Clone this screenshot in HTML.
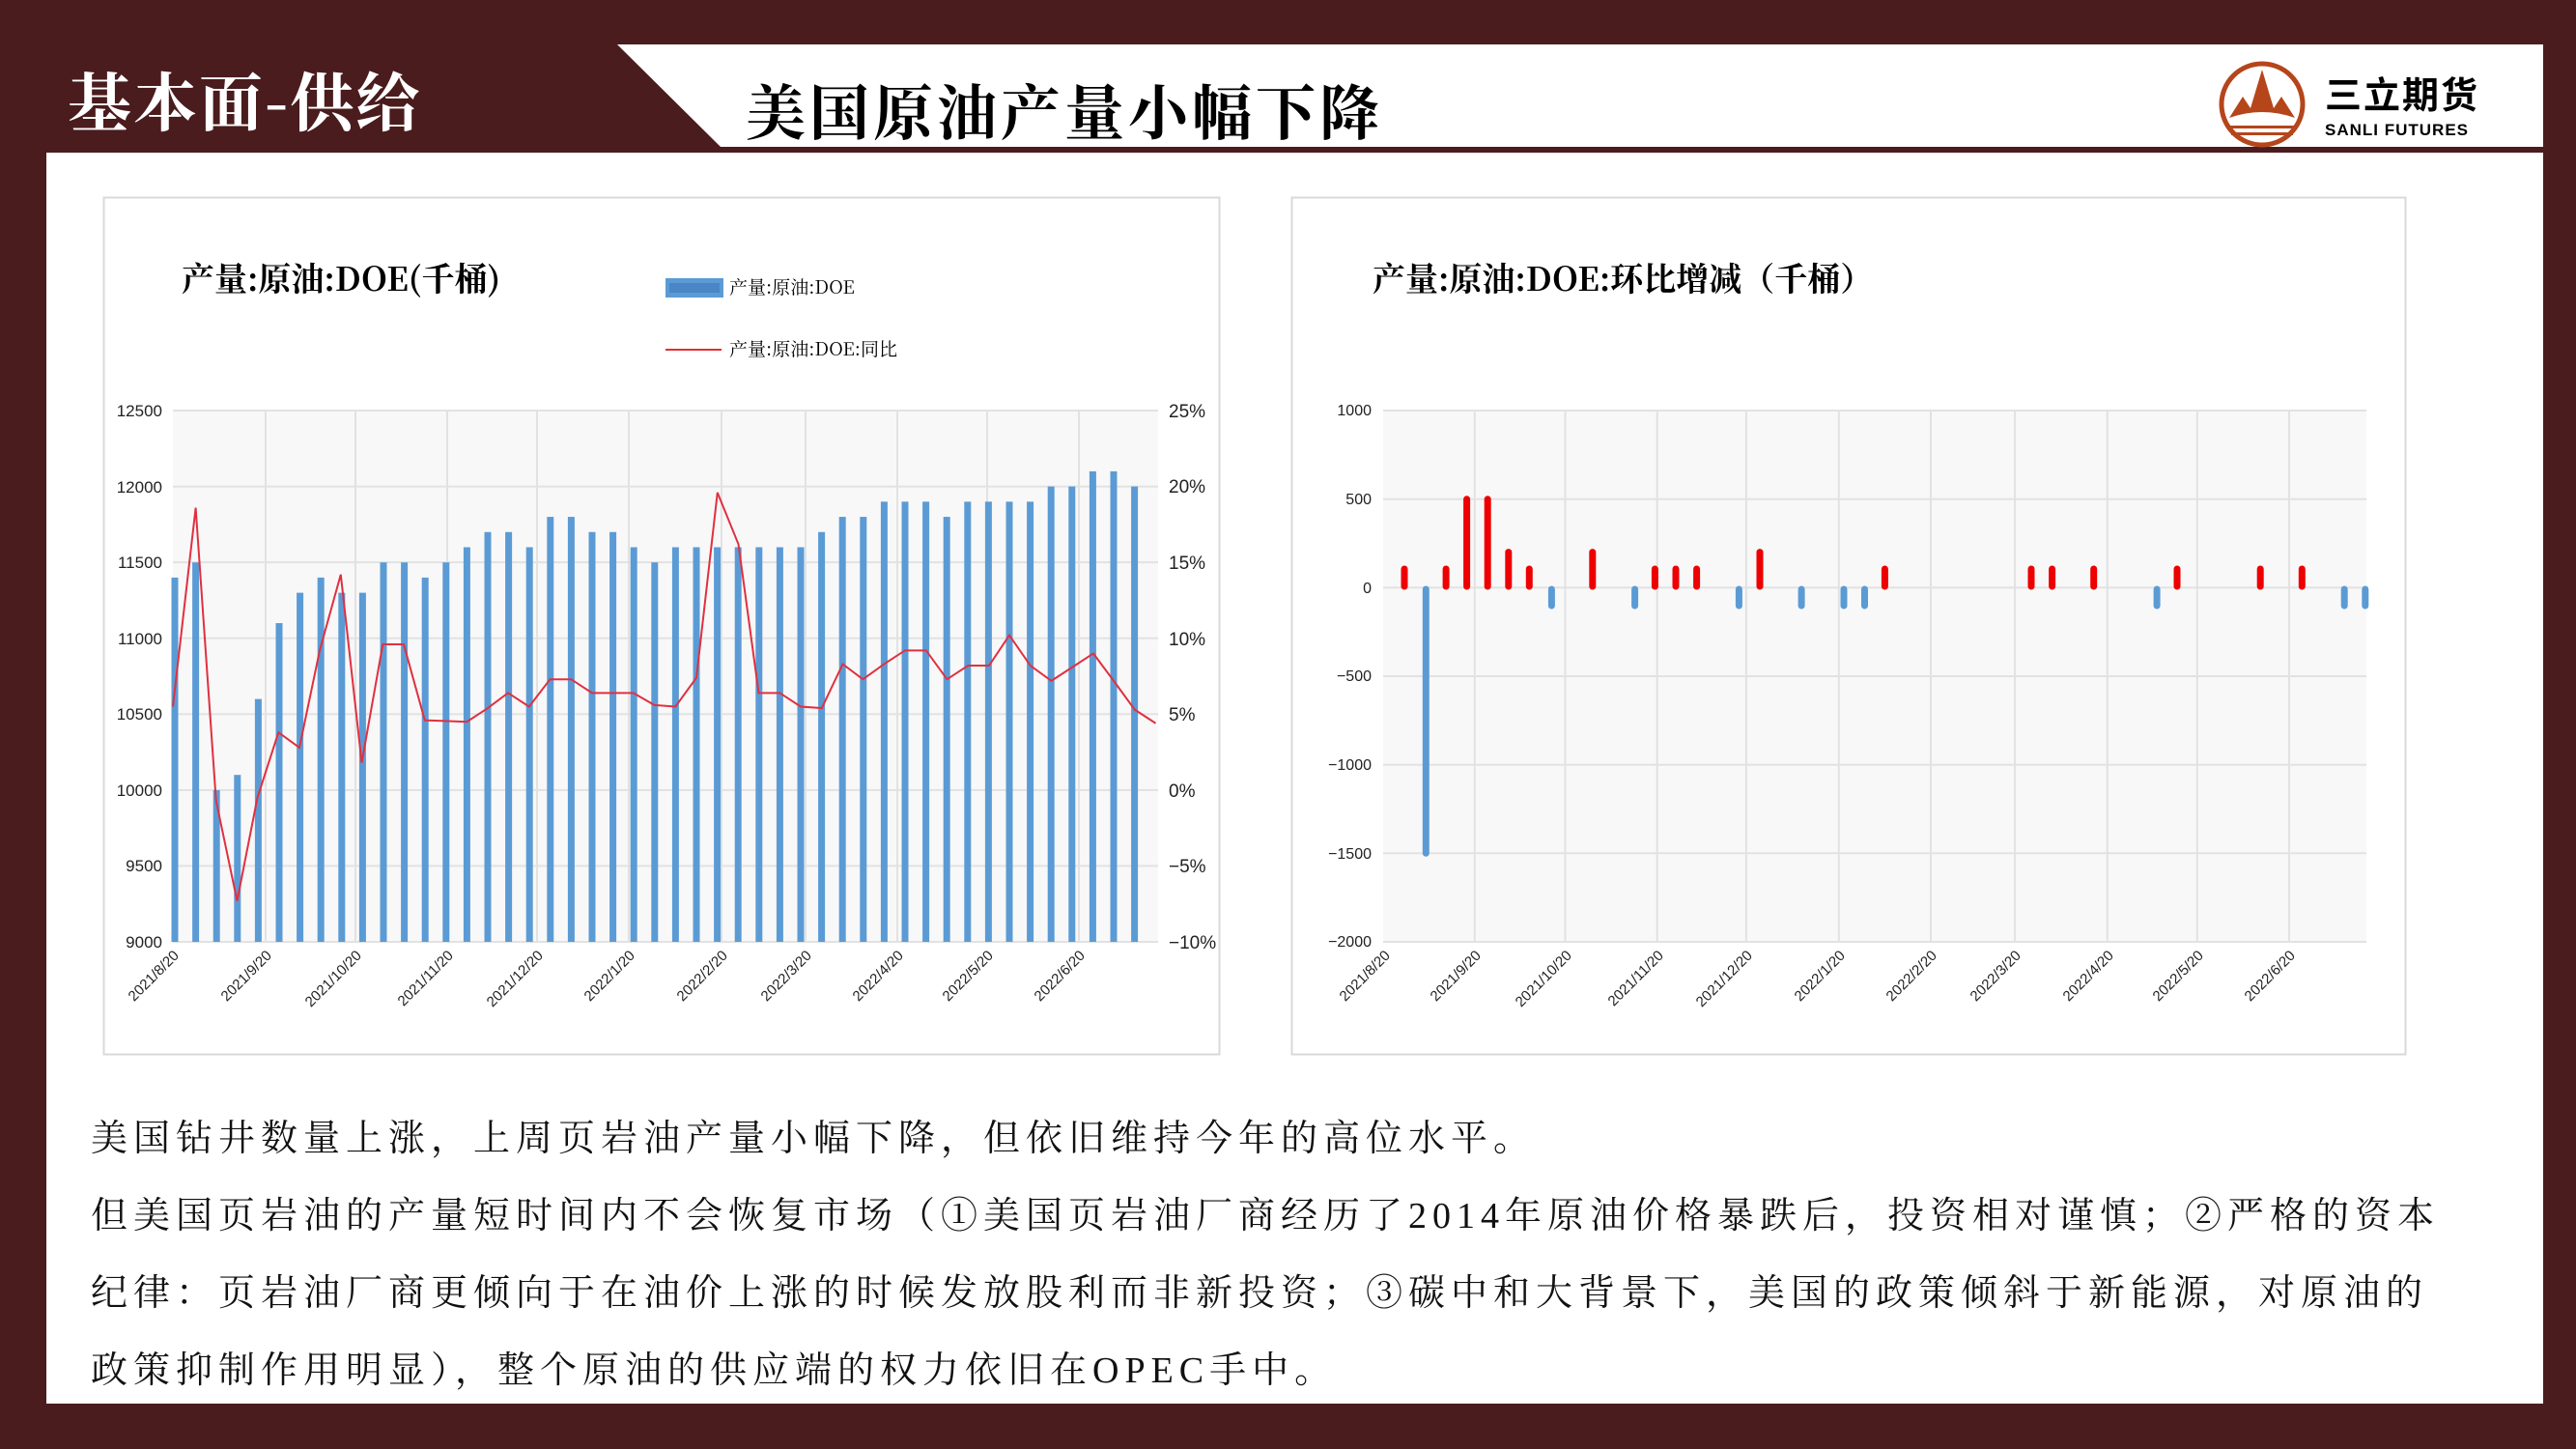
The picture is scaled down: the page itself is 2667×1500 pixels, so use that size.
<!DOCTYPE html>
<html><head><meta charset="utf-8"><style>
html,body{margin:0;padding:0}
body{width:2667px;height:1500px;background:#4a1c1e;position:relative;overflow:hidden;font-family:"Liberation Sans","Noto Sans CJK SC",sans-serif}
.content{position:absolute;left:48px;top:158px;width:2585px;height:1295px;background:#fff}
.bar{position:absolute;left:0;top:46px;width:2633px;height:106px;background:#fff;clip-path:polygon(639px 0,2633px 0,2633px 106px,746px 106px)}
.t1{position:absolute;left:70px;top:54px;color:#fff;font-size:66px;font-weight:bold;font-family:"Noto Serif CJK SC","Noto Sans CJK SC",serif;letter-spacing:2px}
.t2{position:absolute;left:772px;top:68px;color:#000;font-size:62px;font-weight:bold;font-family:"Noto Serif CJK SC","Noto Sans CJK SC",serif;letter-spacing:4px}
.txt{position:absolute;left:94px;font-size:38px;letter-spacing:6px;color:#111;font-family:"Liberation Serif","Noto Serif CJK SC",serif;white-space:nowrap}
</style></head><body>
<div class="content"></div>
<div class="bar"></div>
<div class="t1">基本面-供给</div>
<div class="t2">美国原油产量小幅下降</div>
<svg style="position:absolute;left:0;top:0" width="2667" height="1500">
 <circle cx="2342" cy="108" r="42" fill="none" stroke="#b5451b" stroke-width="5"/>
 <path d="M2308 122 L2322 100 L2330 112 L2342 72 L2354 112 L2362 100 L2376 122 Q2342 110 2308 122Z" fill="#b5451b"/>
 <rect x="2306" y="130" width="72" height="3" fill="#b5451b"/>
 <rect x="2310" y="137" width="64" height="3" fill="#b5451b"/>
 <text x="2407" y="112" font-size="38" font-weight="bold" font-family="Noto Sans CJK SC,sans-serif" letter-spacing="2">三立期货</text>
 <text x="2407" y="140" font-size="17" font-weight="bold" font-family="Liberation Sans,sans-serif" letter-spacing="1">SANLI FUTURES</text>

 <!-- LEFT CHART -->
 <rect x="107.5" y="204.5" width="1155" height="887" fill="#fff" stroke="#d9d9d9" stroke-width="2"/>
 <text x="188" y="301" font-size="34" font-weight="bold" font-family="Noto Serif CJK SC,serif">产量:原油:DOE(千桶)</text>
 <rect x="689" y="288" width="60" height="20" fill="#5b9bd5"/><rect x="693" y="293" width="52" height="10" fill="#4a86c5"/>
 <text x="755" y="304" font-size="19" font-family="Noto Serif CJK SC,serif">产量:原油:DOE</text>
 <line x1="689" y1="362" x2="747" y2="362" stroke="#e03030" stroke-width="2"/>
 <text x="755" y="368" font-size="19" font-family="Noto Serif CJK SC,serif">产量:原油:DOE:同比</text>
 <rect x="179" y="425" width="1020" height="550" fill="#f8f8f8"/>
 <g stroke="#e2e2e2" stroke-width="2">
  <line x1="179" x2="1199" y1="425" y2="425"/><line x1="179" x2="1199" y1="503.6" y2="503.6"/><line x1="179" x2="1199" y1="582.1" y2="582.1"/><line x1="179" x2="1199" y1="660.7" y2="660.7"/><line x1="179" x2="1199" y1="739.3" y2="739.3"/><line x1="179" x2="1199" y1="817.9" y2="817.9"/><line x1="179" x2="1199" y1="896.4" y2="896.4"/><line x1="179" x2="1199" y1="975" y2="975"/>
  <line x1="275" x2="275" y1="425" y2="975"/><line x1="368" x2="368" y1="425" y2="975"/><line x1="463" x2="463" y1="425" y2="975"/><line x1="556" x2="556" y1="425" y2="975"/><line x1="651" x2="651" y1="425" y2="975"/><line x1="747" x2="747" y1="425" y2="975"/><line x1="834" x2="834" y1="425" y2="975"/><line x1="929" x2="929" y1="425" y2="975"/><line x1="1022" x2="1022" y1="425" y2="975"/><line x1="1117" x2="1117" y1="425" y2="975"/>
 </g>
 <g font-size="17" text-anchor="end" fill="#222">
  <text x="168" y="431">12500</text><text x="168" y="510">12000</text><text x="168" y="588">11500</text><text x="168" y="667">11000</text><text x="168" y="745">10500</text><text x="168" y="824">10000</text><text x="168" y="902">9500</text><text x="168" y="981">9000</text>
 </g>
 <g font-size="19" fill="#222">
  <text x="1210" y="432">25%</text><text x="1210" y="510">20%</text><text x="1210" y="589">15%</text><text x="1210" y="668">10%</text><text x="1210" y="746">5%</text><text x="1210" y="825">0%</text><text x="1210" y="903">−5%</text><text x="1210" y="982">−10%</text>
 </g>
 <g fill="#5b9bd5" transform="matrix(1,0,0,-0.15714,0,2389.3)">
  <rect x="177.5" y="9000" width="7" height="2400"/><rect x="199.1" y="9000" width="7" height="2500"/><rect x="220.7" y="9000" width="7" height="1000"/><rect x="242.3" y="9000" width="7" height="1100"/><rect x="263.9" y="9000" width="7" height="1600"/><rect x="285.5" y="9000" width="7" height="2100"/><rect x="307.1" y="9000" width="7" height="2300"/><rect x="328.7" y="9000" width="7" height="2400"/><rect x="350.3" y="9000" width="7" height="2300"/><rect x="371.9" y="9000" width="7" height="2300"/>
  <rect x="393.5" y="9000" width="7" height="2500"/><rect x="415.1" y="9000" width="7" height="2500"/><rect x="436.7" y="9000" width="7" height="2400"/><rect x="458.3" y="9000" width="7" height="2500"/><rect x="479.9" y="9000" width="7" height="2600"/><rect x="501.5" y="9000" width="7" height="2700"/><rect x="523.1" y="9000" width="7" height="2700"/><rect x="544.7" y="9000" width="7" height="2600"/><rect x="566.3" y="9000" width="7" height="2800"/><rect x="587.9" y="9000" width="7" height="2800"/>
  <rect x="609.5" y="9000" width="7" height="2700"/><rect x="631.1" y="9000" width="7" height="2700"/><rect x="652.7" y="9000" width="7" height="2600"/><rect x="674.3" y="9000" width="7" height="2500"/><rect x="695.9" y="9000" width="7" height="2600"/><rect x="717.5" y="9000" width="7" height="2600"/><rect x="739.1" y="9000" width="7" height="2600"/><rect x="760.7" y="9000" width="7" height="2600"/><rect x="782.3" y="9000" width="7" height="2600"/><rect x="803.9" y="9000" width="7" height="2600"/>
  <rect x="825.5" y="9000" width="7" height="2600"/><rect x="847.1" y="9000" width="7" height="2700"/><rect x="868.7" y="9000" width="7" height="2800"/><rect x="890.3" y="9000" width="7" height="2800"/><rect x="911.9" y="9000" width="7" height="2900"/><rect x="933.5" y="9000" width="7" height="2900"/><rect x="955.1" y="9000" width="7" height="2900"/><rect x="976.7" y="9000" width="7" height="2800"/><rect x="998.3" y="9000" width="7" height="2900"/><rect x="1019.9" y="9000" width="7" height="2900"/>
  <rect x="1041.5" y="9000" width="7" height="2900"/><rect x="1063.1" y="9000" width="7" height="2900"/><rect x="1084.7" y="9000" width="7" height="3000"/><rect x="1106.3" y="9000" width="7" height="3000"/><rect x="1127.9" y="9000" width="7" height="3100"/><rect x="1149.5" y="9000" width="7" height="3100"/><rect x="1171.1" y="9000" width="7" height="3000"/>
 </g>
 <g transform="matrix(1,0,0,-15.714,0,817.9)">
  <polyline fill="none" stroke="#e03040" stroke-width="2" vector-effect="non-scaling-stroke" points="179,5.5 202.6,18.6 223.7,-0.7 245.5,-7.3 266.5,-0.5 288.3,3.8 310,2.8 331,9.2 352.8,14.2 374.5,1.8 396.3,9.6 418,9.6 439.8,4.6 461.5,4.55 483.3,4.5 505,5.4 526,6.4 547.8,5.5 569.5,7.3 591.3,7.3 613,6.4 634,6.4 655.8,6.4 677.5,5.6 699.3,5.5 721,7.4 742.8,19.6 764.5,16.2 785.5,6.4 807.3,6.4 829,5.5 850.8,5.4 872.5,8.3 893.5,7.3 915.3,8.3 937,9.2 958.8,9.2 980.5,7.3 1002.3,8.2 1024,8.2 1045,10.2 1066.8,8.2 1088.5,7.2 1110.3,8.1 1132,9.0 1153,7.2 1174.8,5.3 1196.5,4.4"/>
 </g>
 <g font-size="15" text-anchor="end" fill="#222">
  <text transform="translate(186,990) rotate(-45)">2021/8/20</text>
  <text transform="translate(282,990) rotate(-45)">2021/9/20</text>
  <text transform="translate(375,990) rotate(-45)">2021/10/20</text>
  <text transform="translate(470,990) rotate(-45)">2021/11/20</text>
  <text transform="translate(563,990) rotate(-45)">2021/12/20</text>
  <text transform="translate(658,990) rotate(-45)">2022/1/20</text>
  <text transform="translate(754,990) rotate(-45)">2022/2/20</text>
  <text transform="translate(841,990) rotate(-45)">2022/3/20</text>
  <text transform="translate(936,990) rotate(-45)">2022/4/20</text>
  <text transform="translate(1029,990) rotate(-45)">2022/5/20</text>
  <text transform="translate(1124,990) rotate(-45)">2022/6/20</text>
 </g>

 <!-- RIGHT CHART -->
 <rect x="1337.5" y="204.5" width="1153" height="887" fill="#fff" stroke="#d9d9d9" stroke-width="2"/>
 <text x="1421" y="301" font-size="34" font-weight="bold" font-family="Noto Serif CJK SC,serif">产量:原油:DOE:环比增减（千桶）</text>
 <rect x="1432" y="425" width="1018" height="550" fill="#f8f8f8"/>
 <g stroke="#e2e2e2" stroke-width="2">
  <line x1="1432" x2="2450" y1="425" y2="425"/><line x1="1432" x2="2450" y1="516.7" y2="516.7"/><line x1="1432" x2="2450" y1="608.3" y2="608.3"/><line x1="1432" x2="2450" y1="700" y2="700"/><line x1="1432" x2="2450" y1="791.7" y2="791.7"/><line x1="1432" x2="2450" y1="883.3" y2="883.3"/><line x1="1432" x2="2450" y1="975" y2="975"/>
  <line x1="1526.8" x2="1526.8" y1="425" y2="975"/><line x1="1620.5" x2="1620.5" y1="425" y2="975"/><line x1="1715.7" x2="1715.7" y1="425" y2="975"/><line x1="1807.9" x2="1807.9" y1="425" y2="975"/><line x1="1903.8" x2="1903.8" y1="425" y2="975"/><line x1="1999" x2="1999" y1="425" y2="975"/><line x1="2086" x2="2086" y1="425" y2="975"/><line x1="2181.8" x2="2181.8" y1="425" y2="975"/><line x1="2274.8" x2="2274.8" y1="425" y2="975"/><line x1="2370" x2="2370" y1="425" y2="975"/>
 </g>
 <g font-size="16" text-anchor="end" fill="#222">
  <text x="1420" y="430">1000</text><text x="1420" y="522">500</text><text x="1420" y="614">0</text><text x="1420" y="705">−500</text><text x="1420" y="797">−1000</text><text x="1420" y="889">−1500</text><text x="1420" y="980">−2000</text>
 </g>
 <g stroke-width="7" stroke-linecap="round">
  <g stroke="#ee0000">
   <line x1="1454" x2="1454" y1="607" y2="589"/><line x1="1497.1" x2="1497.1" y1="607" y2="589"/><line x1="1518.6" x2="1518.6" y1="607" y2="516.7"/><line x1="1540.2" x2="1540.2" y1="607" y2="516.7"/><line x1="1561.8" x2="1561.8" y1="607" y2="571.6"/><line x1="1583.3" x2="1583.3" y1="607" y2="589"/><line x1="1648.8" x2="1648.8" y1="607" y2="571.6"/><line x1="1713.4" x2="1713.4" y1="607" y2="589"/><line x1="1735" x2="1735" y1="607" y2="589"/><line x1="1756.6" x2="1756.6" y1="607" y2="589"/><line x1="1822" x2="1822" y1="607" y2="571.6"/><line x1="1951.4" x2="1951.4" y1="607" y2="589"/><line x1="2103" x2="2103" y1="607" y2="589"/><line x1="2124.6" x2="2124.6" y1="607" y2="589"/><line x1="2167.7" x2="2167.7" y1="607" y2="589"/><line x1="2254" x2="2254" y1="607" y2="589"/><line x1="2340.2" x2="2340.2" y1="607" y2="589"/><line x1="2383.3" x2="2383.3" y1="607" y2="589"/>
  </g>
  <g stroke="#5b9bd5">
   <line x1="1476.3" x2="1476.3" y1="610" y2="883.3"/><line x1="1606.4" x2="1606.4" y1="610" y2="627"/><line x1="1692.6" x2="1692.6" y1="610" y2="627"/><line x1="1800.4" x2="1800.4" y1="610" y2="627"/><line x1="1865.1" x2="1865.1" y1="610" y2="627"/><line x1="1909" x2="1909" y1="610" y2="627"/><line x1="1930.5" x2="1930.5" y1="610" y2="627"/><line x1="2233.1" x2="2233.1" y1="610" y2="627"/><line x1="2427.2" x2="2427.2" y1="610" y2="627"/><line x1="2448.8" x2="2448.8" y1="610" y2="627"/>
  </g>
 </g>
 <g font-size="15" text-anchor="end" fill="#222">
  <text transform="translate(1440,990) rotate(-45)">2021/8/20</text>
  <text transform="translate(1534,990) rotate(-45)">2021/9/20</text>
  <text transform="translate(1628,990) rotate(-45)">2021/10/20</text>
  <text transform="translate(1723,990) rotate(-45)">2021/11/20</text>
  <text transform="translate(1815,990) rotate(-45)">2021/12/20</text>
  <text transform="translate(1911,990) rotate(-45)">2022/1/20</text>
  <text transform="translate(2006,990) rotate(-45)">2022/2/20</text>
  <text transform="translate(2093,990) rotate(-45)">2022/3/20</text>
  <text transform="translate(2189,990) rotate(-45)">2022/4/20</text>
  <text transform="translate(2282,990) rotate(-45)">2022/5/20</text>
  <text transform="translate(2377,990) rotate(-45)">2022/6/20</text>
 </g>
</svg>
<div class="txt" style="top:1147px">美国钻井数量上涨，上周页岩油产量小幅下降，但依旧维持今年的高位水平。</div>
<div class="txt" style="top:1227px">但美国页岩油的产量短时间内不会恢复市场（①美国页岩油厂商经历了2014年原油价格暴跌后，投资相对谨慎；②严格的资本</div>
<div class="txt" style="top:1307px">纪律：页岩油厂商更倾向于在油价上涨的时候发放股利而非新投资；③碳中和大背景下，美国的政策倾斜于新能源，对原油的</div>
<div class="txt" style="top:1387px">政策抑制作用明显），整个原油的供应端的权力依旧在OPEC手中。</div>
</body></html>
